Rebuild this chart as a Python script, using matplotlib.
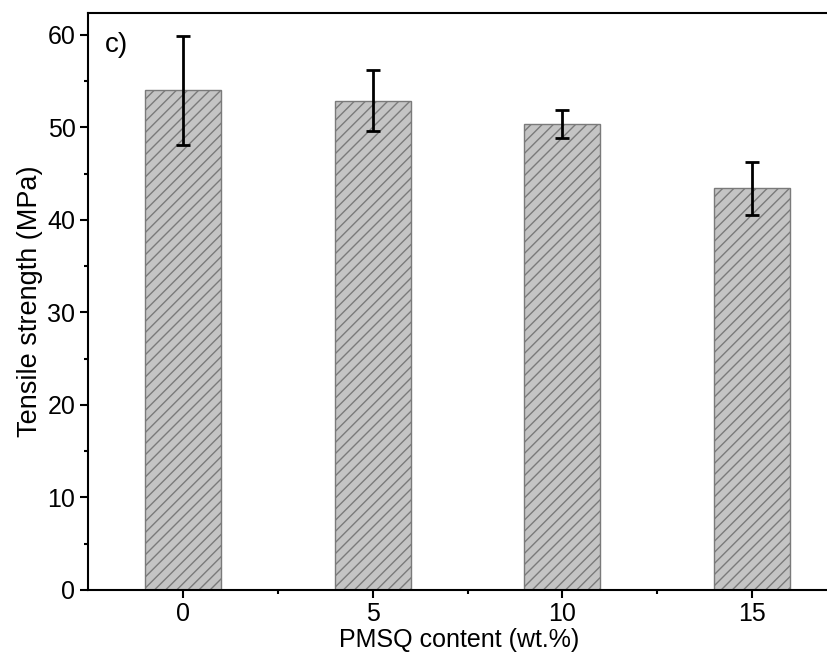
import numpy as np
import matplotlib.pyplot as plt

# PMSQ content (wt.%) and tensile strength (MPa)
content = [0, 5, 10, 15]
strength = [54.0, 52.9, 50.4, 43.4]
strength_err = [5.9, 3.3, 1.5, 2.9]

plt.rcParams['font.family'] = ['Liberation Sans', 'DejaVu Sans']
plt.rcParams['hatch.linewidth'] = 1.0
plt.rcParams['hatch.color'] = '#555555'

fig = plt.figure(figsize=(8.27, 6.52), dpi=100)
# right spine sits just past the figure edge, like the cropped original
ax = fig.add_axes([0.1064, 0.0951, 0.8972, 0.8854])

ax.bar(content, strength, width=2.0, color='#c4c4c4', edgecolor='#7a7a7a',
       hatch='///', linewidth=1.0, zorder=2)
ax.errorbar(content, strength, yerr=strength_err, fmt='none', ecolor='black',
            elinewidth=2, capsize=5, capthick=2, zorder=3)

ax.set_xlim(-2.5, 17.05)
ax.set_ylim(0, 62.4)
ax.set_xticks(content)
ax.set_xticks([2.5, 7.5, 12.5], minor=True)
ax.set_yticks(np.arange(0, 61, 10))
ax.set_yticks(np.arange(5, 61, 10), minor=True)

ax.tick_params(axis='both', which='major', direction='out', length=6, width=1.5,
               labelsize=18, pad=3)
ax.tick_params(axis='both', which='minor', direction='out', length=3, width=1.5)
for s in ax.spines.values():
    s.set_linewidth(1.5)

ax.set_xlabel('PMSQ content (wt.%)', fontsize=18)
ax.xaxis.set_label_coords(0.5, -0.066)
ax.set_ylabel('Tensile strength (MPa)', fontsize=19.5, labelpad=3)
ax.text(0.0229, 0.932, 'c)', transform=ax.transAxes, fontsize=20, va='baseline')

fig.savefig('out.png', dpi=100)
